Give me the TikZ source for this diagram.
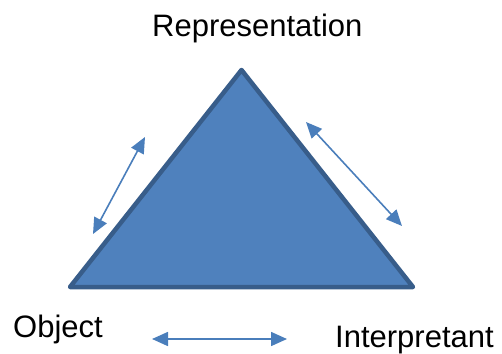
\documentclass[tikz,border=0pt]{standalone}
\usepackage{fontspec}
\setmainfont{Liberation Sans}
\usetikzlibrary{arrows.meta}
\definecolor{trifill}{HTML}{4F81BD}
\definecolor{triedge}{HTML}{385D8A}
\definecolor{arrowc}{HTML}{4A7EBB}
\tikzset{
  lbl/.style={anchor=base west, inner sep=0pt, font=\fontsize{31}{36}\selectfont},
  dblarrow/.style={draw=arrowc, line width=1.6pt, {Triangle[length=16pt,width=14pt]}-{Triangle[length=16pt,width=14pt]}},
  tri/.style={fill=trifill, draw=triedge, line width=4.5pt, line join=round}
}
\begin{document}
\begin{tikzpicture}[x=1pt,y=-1pt]
\useasboundingbox (0,0) rectangle (502,353);
\coordinate (A) at (241.5,70);
\coordinate (B) at (70,287);
\coordinate (C) at (413,287);
\draw[tri] (A) -- (B) -- (C) -- cycle;
\node[lbl] (rep) at (152,37) {Representation};
\node[lbl] (obj) at (13,337) {Object};
\node[lbl] (int) at (335,347) {Interpretant};
\coordinate (l1) at (93,234);
\coordinate (l2) at (145,137);
\coordinate (r1) at (306,122);
\coordinate (r2) at (402,226);
\coordinate (b1) at (152,339);
\coordinate (b2) at (287,339);
\draw[dblarrow] (l1) -- (l2);
\draw[dblarrow] (r1) -- (r2);
\draw[dblarrow] (b1) -- (b2);
\end{tikzpicture}
\end{document}
